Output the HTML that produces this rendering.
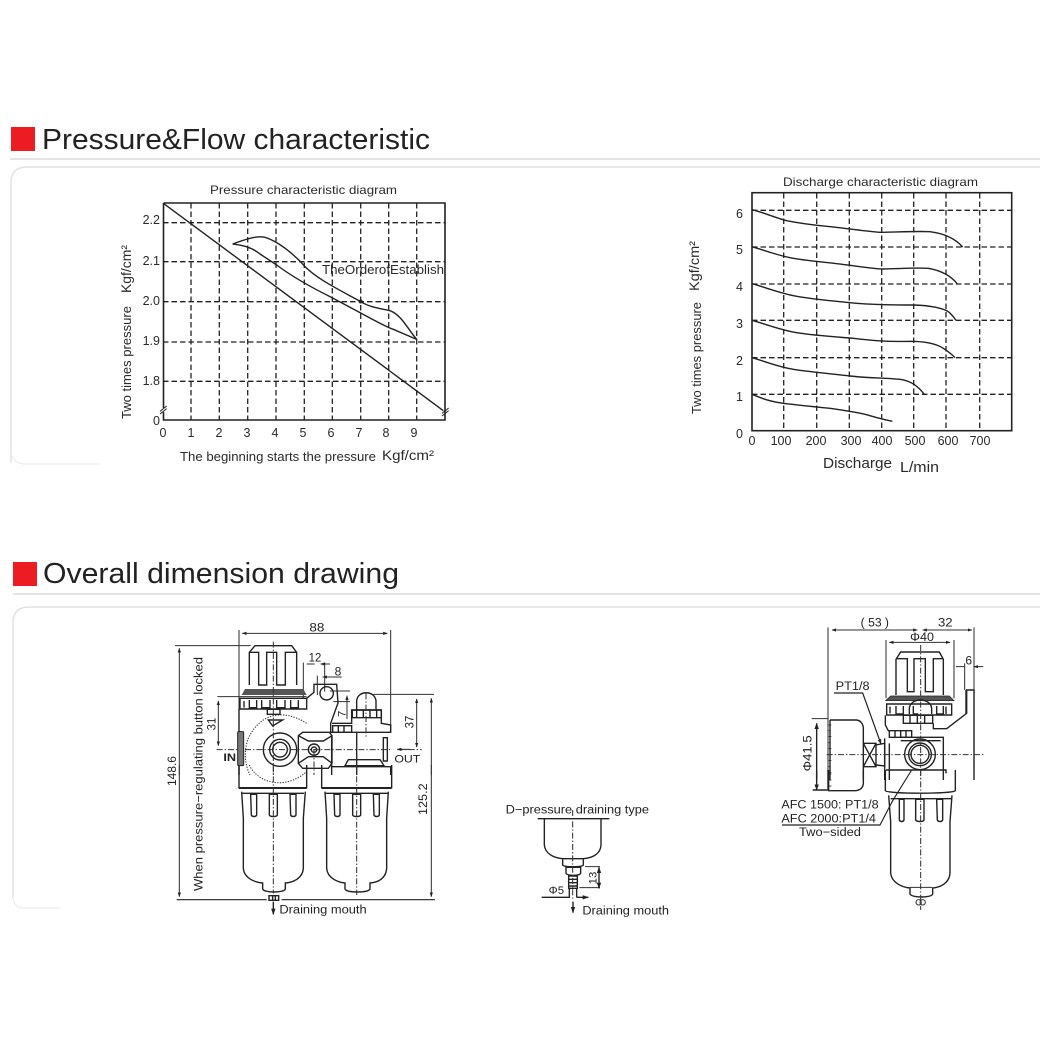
<!DOCTYPE html>
<html><head><meta charset="utf-8"><style>
html,body{margin:0;padding:0;background:#fff}
svg{display:block}
text{font-family:"Liberation Sans",sans-serif;fill:#2a2a2a}
.l{fill:none;stroke:#222;stroke-width:4.2}
.t{fill:none;stroke:#333;stroke-width:3.1}
.g{fill:none;stroke:#222;stroke-width:1.3;stroke-dasharray:5.5 3}
</style></head><body>
<svg width="1040" height="1040" viewBox="0 0 1040 1040" xmlns="http://www.w3.org/2000/svg">
<defs>
<marker id="a" viewBox="0 0 10 10" refX="9" refY="5" markerWidth="4.5" markerHeight="4.5" orient="auto-start-reverse"><path d="M0 1.5L10 5L0 8.500z" fill="#222"/></marker>
<filter id="b" x="0" y="0" width="100%" height="100%"><feGaussianBlur stdDeviation=".3"/></filter>
</defs>
<rect width="1040" height="1040" fill="#fff"/>
<g filter="url(#b)">

<!-- headers -->
<rect x="11" y="127" width="24" height="24" fill="#ed1c24"/>
<text x="42" y="149" font-size="28.500" textLength="388" lengthAdjust="spacingAndGlyphs" style="fill:#222">Pressure&amp;Flow characteristic</text>
<path d="M10 159H1040" stroke="#c8c8c8" stroke-width="1"/>
<path d="M11 463V183Q11 167 27 167H1040" fill="none" stroke="#e2e2e2" stroke-width="1.5"/>
<path d="M11 452Q12 463 24 464H100" fill="none" stroke="#e8e8e8" stroke-width="1"/>
<rect x="13" y="562" width="24" height="24" fill="#ed1c24"/>
<text x="43" y="583" font-size="28.500" textLength="356" lengthAdjust="spacingAndGlyphs" style="fill:#222">Overall dimension drawing</text>
<path d="M13 594H1040" stroke="#c8c8c8" stroke-width="1"/>
<path d="M13 897V623Q13 607 29 607H1040" fill="none" stroke="#e2e2e2" stroke-width="1.5"/>
<path d="M13 897Q14 908 24 908H60" fill="none" stroke="#e8e8e8" stroke-width="1"/>

<!-- chart 1 -->
<text x="210" y="194" font-size="12" textLength="187" lengthAdjust="spacingAndGlyphs">Pressure characteristic diagram</text>
<path d="M163.500 203H445V420H163.500V412M163.500 408V203" fill="none" stroke="#222" stroke-width="1.600"/>
<path class="g" d="M191 203V420M219.300 203V420M247.700 203V420M276 203V420M304.300 203V420M332.300 203V420M360.700 203V420M388.700 203V420M416.700 203V420M163 222.700H445M163 261.700H445M163 301.700H445M163 342H445M163 381.300H445"/>
<g transform="translate(100,170) scale(.33333)" fill="none" stroke="#222" stroke-width="4.200">
<path d="M190 100L1030 722"/>
<path d="M398 222C430 210 470 196 495 202C530 212 580 250 615 290C650 325 700 350 782 395C810 412 840 415 870 422C905 435 925 480 950 508"/>
<path d="M398 222C420 225 450 228 480 252L530 285C570 315 620 345 690 380L780 428C830 455 860 472 880 478L950 508"/>
<path d="M180 732L200 716M180 724L200 708M1026 738L1046 722M1026 730L1046 714" stroke-width="3"/>
</g>
<circle cx="360.700" cy="301.500" r="2" fill="#222"/>
<text x="322" y="274" font-size="12.500" textLength="122" lengthAdjust="spacingAndGlyphs">TheOrderofEstablish</text>
<g font-size="12.500" text-anchor="end">
<text x="160" y="224">2.2</text><text x="160" y="265">2.1</text><text x="160" y="305">2.0</text><text x="160" y="345">1.9</text><text x="160" y="385">1.8</text><text x="160" y="425">0</text></g>
<g font-size="12.500" text-anchor="middle">
<text x="163" y="437">0</text><text x="191" y="437">1</text><text x="219" y="437">2</text><text x="247" y="437">3</text><text x="275" y="437">4</text><text x="303" y="437">5</text><text x="331" y="437">6</text><text x="359" y="437">7</text><text x="386" y="437">8</text><text x="414" y="437">9</text></g>
<text x="131" y="419" font-size="12.500" transform="rotate(-90 131 419)" textLength="113" lengthAdjust="spacingAndGlyphs">Two times pressure</text>
<text x="131" y="293" font-size="13.500" transform="rotate(-90 131 293)" textLength="48" lengthAdjust="spacingAndGlyphs">Kgf/cm²</text>
<text x="180" y="461" font-size="12.500" textLength="196" lengthAdjust="spacingAndGlyphs">The beginning starts the pressure</text>
<text x="382" y="460" font-size="13.500" textLength="52" lengthAdjust="spacingAndGlyphs">Kgf/cm²</text>

<!-- chart 2 -->
<text x="783" y="186" font-size="12" textLength="195" lengthAdjust="spacingAndGlyphs">Discharge characteristic diagram</text>
<rect x="752" y="192.700" width="259.700" height="238" fill="none" stroke="#222" stroke-width="1.600"/>
<path class="g" d="M783.700 193V431M816.700 193V431M849.300 193V431M881.700 193V431M913.700 193V431M946 193V431M979.700 193V431M752 210.300H1011M752 247H1011M752 284H1011M752 320.300H1011M752 357.700H1011M752 394.300H1011"/>
<g transform="translate(680,170) scale(.33333)" fill="none" stroke="#222" stroke-width="4.200">
<path d="M216 119C250 127 290 145 320 152C360 160 400 165 440 169C500 175 560 184 600 187C640 187 700 183 750 185C790 190 825 205 848 231"/>
<path d="M216 230C250 240 290 255 330 263C370 271 420 275 470 281C520 286 570 296 610 297C650 297 700 292 745 295C785 302 815 320 832 342"/>
<path d="M216 341C250 350 300 370 350 379C400 388 450 392 510 398C560 403 620 405 700 405C750 406 790 415 805 425C815 433 822 442 828 451"/>
<path d="M216 451C250 460 300 480 350 488C400 496 460 500 520 505C570 511 620 516 690 514C740 514 770 522 790 535C805 545 815 552 825 563"/>
<path d="M216 563C250 572 290 590 340 598C390 606 460 612 510 618C560 624 620 624 660 628C695 633 715 650 733 673"/>
<path d="M216 673C245 685 270 695 310 700C350 705 400 710 450 715C500 722 540 728 570 737C590 743 610 748 637 754"/>
</g>
<g font-size="12.500" text-anchor="end">
<text x="743" y="218">6</text><text x="743" y="254">5</text><text x="743" y="291">4</text><text x="743" y="328">3</text><text x="743" y="365">2</text><text x="743" y="401">1</text><text x="743" y="438">0</text></g>
<g font-size="12.500" text-anchor="middle">
<text x="752" y="445">0</text><text x="781" y="445">100</text><text x="816" y="445">200</text><text x="851" y="445">300</text><text x="882" y="445">400</text><text x="915" y="445">500</text><text x="948" y="445">600</text><text x="980" y="445">700</text></g>
<text x="701" y="414" font-size="12.500" transform="rotate(-90 701 414)" textLength="112" lengthAdjust="spacingAndGlyphs">Two times pressure</text>
<text x="699" y="291" font-size="13.500" transform="rotate(-90 699 291)" textLength="50" lengthAdjust="spacingAndGlyphs">Kgf/cm²</text>
<text x="823" y="468" font-size="14.500" textLength="69" lengthAdjust="spacingAndGlyphs">Discharge</text>
<text x="900" y="472" font-size="14.500" textLength="39" lengthAdjust="spacingAndGlyphs">L/min</text>

<!-- front view upper -->
<g transform="translate(160,615) scale(.33333)" font-size="36">
<text x="448" y="49" textLength="45" lengthAdjust="spacingAndGlyphs" style="fill:#222">88</text>
<path class="t" d="M237 45V480M692 45V352M45 92H272M172 245H440M640 238H822M430 143V250M494 143V230M472 182V240M520 260H570M510 228H570"/>
<path class="t" marker-start="url(#a)" marker-end="url(#a)" d="M247 55H682"/>
<path class="t" marker-start="url(#a)" d="M58 100V480"/>
<path class="t" marker-start="url(#a)" d="M814 250V480"/>
<path class="t" marker-start="url(#a)" marker-end="url(#a)" d="M175 258V392"/>
<path class="t" marker-start="url(#a)" marker-end="url(#a)" d="M770 252V396"/>
<path class="t" marker-end="url(#a)" d="M440 147H464M510 147H482"/>
<path class="t" marker-end="url(#a)" d="M545 186H488"/>
<path class="t" marker-end="url(#a)" d="M561 312V242"/>
<path class="l" d="M268 210V112L285 92H395L410 112V210M268 112H296V210H320V112H350V210H376V112H410"/>
<path d="M245 240L255 222H430L440 240z" fill="#555"/>
<path class="l" d="M240 250H440V282H240zM252 258V278M268 255V278H290V255M305 255V278H330V255M350 255V278H375V255M392 255V278H415V255"/>
<path class="l" d="M237 282V480M440 250L462 232V208H530L534 264L512 325V352H692V330L664 325V285H575V325H516"/>
<path class="t" stroke-dasharray="4 4" d="M440 325C370 280 300 295 265 370C250 410 255 450 270 480"/>
<path class="l" d="M325 315H368L338 333zM322 283H360V298H322z"/>
<rect x="233" y="350" width="18" height="102" rx="3" fill="#777" stroke="#222" stroke-width="3"/>
<circle cx="360" cy="404" r="50" class="l"/><circle cx="360" cy="404" r="31" class="l"/><circle cx="360" cy="404" r="22" class="l"/>
<path class="l" d="M415 362L428 352H508L516 362V445L505 460H428L415 445zM415 362L445 378H490L516 362M415 445L445 425H490L516 445"/>
<circle cx="462" cy="404" r="17" class="l"/><circle cx="462" cy="404" r="8" class="l"/>
<circle cx="500" cy="235" r="20" class="l"/>
<path class="l" d="M518 332H575V352H518zM535 332V352M552 332V352M577 285H664V308H577zM590 285V308M610 285V308M630 285V308M650 285V308"/>
<path class="l" d="M590 285V258C592 225 645 225 648 258V285M670 368H682V438H670zM590 350V480M555 452L565 434H660L672 452zM515 455H692V480M515 360V480"/>
<path d="M170 404H232M255 404H690M712 404H785" class="t" stroke-dasharray="18 6 4 6"/>
<path class="t" stroke-dasharray="18 6 4 6" d="M340 80V480M462 405V480M590 350V480M618 235V365"/>
<path class="t" marker-end="url(#a)" d="M750 403H712"/>
<text x="190" y="438" font-size="32" textLength="38" lengthAdjust="spacingAndGlyphs" style="fill:#222;font-weight:700">IN</text>
<text x="703" y="443" font-size="33" textLength="78" lengthAdjust="spacingAndGlyphs" style="fill:#222">OUT</text>
<text x="556" y="306" font-size="34" transform="rotate(-90 556 306)" style="fill:#222">7</text>
<text x="446" y="140" textLength="38" lengthAdjust="spacingAndGlyphs" style="fill:#222">12</text>
<text x="524" y="182" style="fill:#222">8</text>
<text x="166" y="346" transform="rotate(-90 166 346)" textLength="38" lengthAdjust="spacingAndGlyphs" style="fill:#222">31</text>
<text x="760" y="340" transform="rotate(-90 760 340)" textLength="38" lengthAdjust="spacingAndGlyphs" style="fill:#222">37</text>
</g>
<!-- front view lower -->
<g transform="translate(160,765) scale(.33333)" font-size="36">
<path class="l" d="M237 0V68H440V0M485 0V68H695V0M237 70H440M485 70H695"/>
<path class="l" d="M245 80L250 160V310C252 340 285 352 308 354V372C312 384 372 384 376 372V354C400 352 428 340 430 310V160L436 80M246 85H432"/>
<path class="l" d="M272 88H290V150C288 156 276 156 274 150zM328 88H352V150C350 156 330 156 328 150zM390 88H408V150C406 156 394 156 392 150z"/>
<path class="l" d="M495 80L500 160V310C502 340 535 352 555 354V372C560 384 625 384 630 372V354C655 352 678 340 680 310V160L685 80M495 85H685"/>
<path class="l" d="M522 88H540V150C538 156 526 156 524 150zM578 88H602V150C600 156 580 156 578 150zM640 88H658V150C656 156 644 156 642 150z"/>
<path class="t" stroke-dasharray="18 6 4 6" d="M340 0V385M590 0V390"/>
<path class="t" stroke-dasharray="4 4" d="M268 0C290 50 370 80 440 20"/>
<path d="M50 404H320M365 404H825" stroke="#222" stroke-width="3.500"/>
<path class="l" d="M327 392H356V406H327zM338 392V406M346 392V406"/>
<path class="l" marker-end="url(#a)" d="M340 410V448"/>
<path class="t" marker-end="url(#a)" d="M58 0V395"/>
<path class="t" marker-end="url(#a)" d="M814 0V395"/>
<text x="358" y="446" textLength="262" lengthAdjust="spacingAndGlyphs" style="fill:#222">Draining mouth</text>
<text x="48" y="63" transform="rotate(-90 48 63)" style="fill:#222" textLength="90" lengthAdjust="spacingAndGlyphs">148.6</text>
<text x="128" y="378" transform="rotate(-90 128 378)" textLength="702" lengthAdjust="spacingAndGlyphs" style="fill:#222">When pressure−regulating button locked</text>
<text x="801" y="150" transform="rotate(-90 801 150)" textLength="95" lengthAdjust="spacingAndGlyphs" style="fill:#222">125.2</text>
</g>

<!-- D-pressure draining -->
<g transform="translate(490,790) scale(.33333)">
<text x="47" y="70" font-size="36" textLength="430" lengthAdjust="spacingAndGlyphs" style="fill:#222">D−pressure draining type</text>
<path class="l" d="M143 86H358M163 88V165C165 190 190 204 218 206V225C222 232 276 232 280 225V206C310 204 332 190 333 165V88"/>
<path class="l" d="M218 206H280M228 232H272V250C270 258 232 258 228 250zM236 258H262V295H236zM236 268H262M236 278H262M236 288H262M238 295V322M260 295V322"/>
<path class="t" stroke-dasharray="18 6 4 6" d="M248 60V330"/>
<path class="t" d="M285 230H330M268 293H330"/>
<path class="l" marker-start="url(#a)" marker-end="url(#a)" d="M327 232V295"/>
<path class="l" d="M155 322H240"/><path class="l" marker-end="url(#a)" d="M260 322H295"/>
<path class="l" marker-end="url(#a)" d="M249 335V368"/>
<text x="176" y="312" font-size="34" style="fill:#222">Φ5</text>
<text x="320" y="283" font-size="34" transform="rotate(-90 320 283)" style="fill:#222">13</text>
<text x="277" y="373" font-size="36" textLength="260" lengthAdjust="spacingAndGlyphs" style="fill:#222">Draining mouth</text>
</g>

<!-- side view upper -->
<g transform="translate(770,610) scale(.33333)" font-size="36">
<text x="272" y="49" textLength="85" lengthAdjust="spacingAndGlyphs" style="fill:#222">( 53 )</text>
<text x="504" y="49" textLength="44" lengthAdjust="spacingAndGlyphs" style="fill:#222">32</text>
<text x="420" y="93" textLength="72" lengthAdjust="spacingAndGlyphs" style="fill:#222">Φ40</text>
<text x="586" y="163" style="fill:#222">6</text>
<text x="197" y="240" textLength="102" lengthAdjust="spacingAndGlyphs" style="fill:#222">PT1/8</text>
<text x="124" y="484" transform="rotate(-90 124 484)" textLength="108" lengthAdjust="spacingAndGlyphs" style="fill:#222">Φ41.5</text>
<path class="t" d="M174 52V510M612 52V480M348 90V265M552 90V265M584 160V240M125 326H175"/>
<path class="t" marker-start="url(#a)" marker-end="url(#a)" d="M186 60H442"/>
<path class="t" marker-start="url(#a)" marker-end="url(#a)" d="M458 60H606"/>
<path class="t" marker-start="url(#a)" marker-end="url(#a)" d="M358 97H540"/>
<path class="t" marker-end="url(#a)" d="M558 170H584M640 170H612"/>
<path class="l" marker-start="url(#a)" d="M140 340V510"/>
<path d="M192 249H278L333 402" fill="none" stroke="#222" stroke-width="3.500" marker-end="url(#a)"/>
<path class="l" d="M378 255V148L392 126H508L520 148V255M378 146H412V245H432V146H466V245H490V146H520"/>
<path d="M347 272L362 258H538L552 272z" fill="#555" stroke="#222" stroke-width="2"/>
<path class="l" d="M350 282H545V315H350zM360 290V310M378 288V312H400V288M430 288V312H445M500 288V312H520V288M528 290V312"/>
<path class="l" d="M418 312V295C420 262 482 262 485 295V312"/>
<path class="l" d="M400 316H488V340H400zM420 318V340M442 318V340M464 318V340"/>
<path class="l" d="M346 316V345L355 362H360M490 340V356H530L590 310V240H612V510M588 240V310M358 362H425V382H358zM375 362V382M392 362V382M408 362V382"/>
<path class="l" d="M344 385V510M358 400V510M390 382H520V510M392 392H512"/>
<path d="M180 330H260C272 332 280 342 280 355V510M180 330V510" class="l"/>
<path d="M176 345h8M176 362h5M176 380h8M176 398h5M176 416h8M176 434h5M176 452h8M176 470h5M176 488h8" class="t"/>
<path class="l" d="M280 400H318V470H280M280 400L318 470M318 400L280 470M318 405L344 400V468L318 465"/>
<circle cx="450" cy="433" r="46" class="l"/><circle cx="450" cy="433" r="34" class="l"/><circle cx="450" cy="433" r="27" class="l"/>
<path class="t" stroke-dasharray="18 6 4 6" d="M452 105V510M170 434H645"/>
</g>
<!-- side view lower -->
<g transform="translate(770,770) scale(.33333)" font-size="36">
<path class="l" d="M174 0V62M346 0V62C350 72 550 72 556 62V0M280 0V42C278 55 268 62 255 62H176V0M128 60H174"/>
<path class="l" marker-end="url(#a)" d="M140 2V60"/>
<path d="M178 12h6M178 30h6M178 48h6" class="t"/>
<path class="l" d="M348 0H528V10"/>
<path class="l" d="M356 76L362 155V310C365 340 400 352 420 354V372C425 384 485 384 488 372V354C510 352 538 340 540 310V155L546 76M362 86H544"/>
<path class="l" d="M388 88H402V150C400 156 390 156 388 150zM437 88H462V150C460 156 440 156 437 150zM500 88H518V150C516 156 504 156 502 150z"/>
<path d="M36 165H330L368 92L425 0" fill="none" stroke="#222" stroke-width="3.500"/>
<circle cx="446" cy="397" r="8" class="t"/><circle cx="458" cy="397" r="8" class="t"/>
<path class="t" stroke-dasharray="18 6 4 6" d="M452 0V420"/>
<path d="M420 352H486" class="t"/>
<text x="34" y="116" textLength="292" lengthAdjust="spacingAndGlyphs" style="fill:#222">AFC 1500: PT1/8</text>
<text x="34" y="157" textLength="284" lengthAdjust="spacingAndGlyphs" style="fill:#222">AFC 2000:PT1/4</text>
<text x="87" y="198" textLength="186" lengthAdjust="spacingAndGlyphs" style="fill:#222">Two−sided</text>
</g>
</g>
</svg>
</body></html>
